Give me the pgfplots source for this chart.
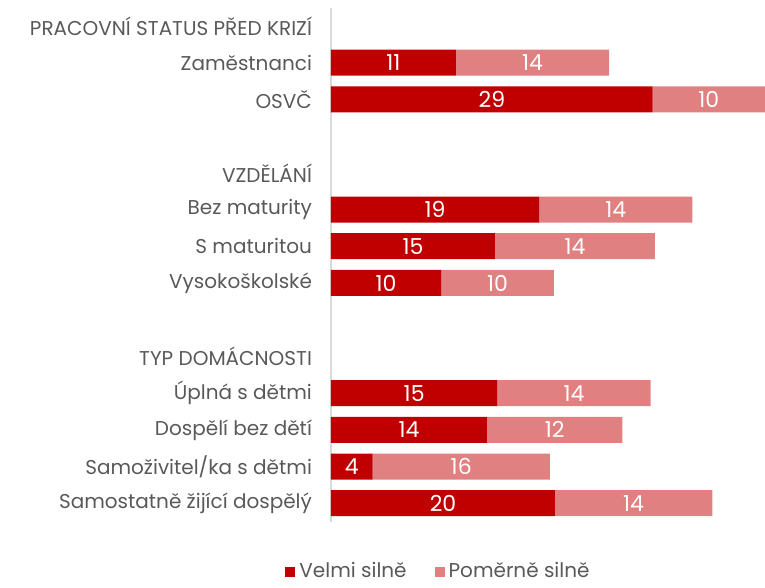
\documentclass[border=0pt]{standalone}
\usepackage{pgfplots}
\pgfplotsset{compat=1.18}
\usepackage{fontspec}
\setmainfont{Poppins}
\definecolor{dred}{HTML}{C00000}
\definecolor{lred}{HTML}{E08080}
\definecolor{txt}{HTML}{595959}
\begin{document}
\begin{tikzpicture}
\useasboundingbox (-165.5pt,-33pt) rectangle (217pt,260.8pt);
\begin{axis}[
  anchor=south west, at={(0,0)},
  scale only axis, width=217pt, height=257pt,
  xbar stacked, bar width=13pt,
  xmin=0, xmax=39.2, ymin=-0.5, ymax=13.5, y dir=reverse,
  axis x line=none, axis y line*=left,
  y axis line style={draw=black!15, line width=0.8pt, -},
  ytick={0,...,13},
  yticklabels={PRACOVNÍ STATUS PŘED KRIZÍ,Zaměstnanci,OSVČ,{},VZDĚLÁNÍ,Bez maturity,S maturitou,Vysokoškolské,{},TYP DOMÁCNOSTI,Úplná s dětmi,Dospělí bez dětí,Samoživitel/ka s dětmi,Samostatně žijící dospělý},
  major tick length=0pt,
  yticklabel style={font=\fontsize{10}{12}\selectfont, text=txt, xshift=-6pt},
  nodes near coords, point meta=explicit symbolic,
  every node near coord/.append style={font=\fontsize{11}{13}\selectfont, text=white, anchor=center},
  legend style={at={(0.25,0)}, anchor=center, yshift=-25pt, draw=none, font=\fontsize{10}{12}\selectfont, text=txt, legend columns=2, /tikz/every even column/.append style={column sep=12pt}},
  legend image code/.code={\fill[#1] (0pt,-2.5pt) rectangle (5pt,2.5pt);},
]
\addplot[fill=dred, draw=none] coordinates {(11.29,1) [11] (29.06,2) [29] (18.79,5) [19] (14.81,6) [15] (9.94,7) [10] (15.02,10) [15] (14.09,11) [14] (3.77,12) [4] (20.23,13) [20]};
\addplot[fill=lred, draw=none] coordinates {(13.82,1) [14] (10.14,2) [10] (13.85,5) [14] (14.45,6) [14] (10.2,7) [10] (13.86,10) [14] (12.22,11) [12] (15.99,12) [16] (14.21,13) [14]};
\legend{Velmi silně, Poměrně silně}
\end{axis}
\end{tikzpicture}
\end{document}
